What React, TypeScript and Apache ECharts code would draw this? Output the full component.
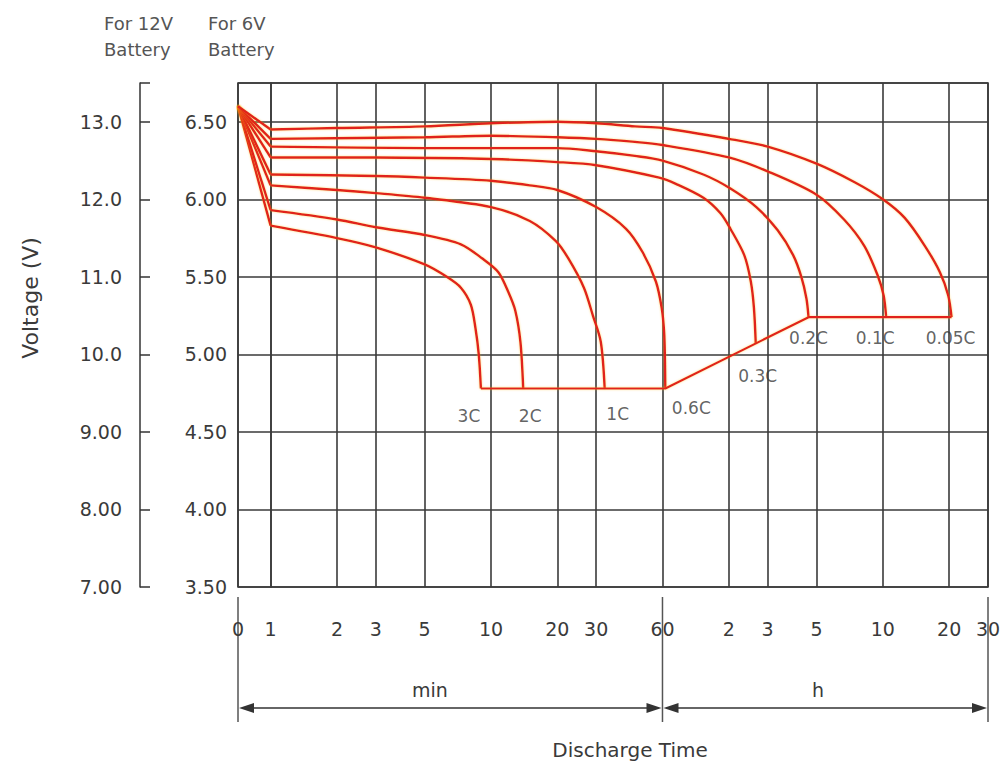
import React, { useEffect, useRef } from "react";
import * as echarts from "echarts";

// ---- data (time in minutes, voltage in V for a 6 V battery) ----
const LOG_ZERO = -0.148; // axis position used for t = 0 (log10 minutes axis)
const tickMinutes = [0, 1, 2, 3, 5, 10, 20, 30, 60, 120, 180, 300, 600, 1200, 1800];
const tickLabels = ["0", "1", "2", "3", "5", "10", "20", "30", "60", "2", "3", "5", "10", "20", "30"];

const rates = ["3C", "2C", "1C", "0.6C", "0.3C", "0.2C", "0.1C", "0.05C"];

const c3C = [[0, 6.6], [1, 5.83], [2, 5.75], [3, 5.69], [5, 5.58], [6.3, 5.5], [7.3, 5.43], [8.1, 5.32], [8.5, 5.17], [8.8, 5.0], [9.0, 4.78]];
const c2C = [[0, 6.6], [1, 5.93], [2, 5.87], [3, 5.82], [5, 5.77], [7.3, 5.71], [9.1, 5.62], [10.8, 5.53], [12, 5.4], [12.9, 5.28], [13.6, 5.08], [14, 4.78]];
const c1C = [[0, 6.6], [1, 6.09], [2, 6.06], [3, 6.04], [5, 6.01], [10, 5.95], [15, 5.86], [19.7, 5.73], [22.4, 5.62], [26.4, 5.43], [29, 5.25], [31.5, 5.08], [32.8, 4.78]];
const c06C = [[0, 6.6], [1, 6.16], [3, 6.15], [5, 6.14], [10, 6.12], [15, 6.09], [20, 6.06], [30, 5.95], [41, 5.81], [48.7, 5.66], [56, 5.47], [59.5, 5.3], [61, 5.15], [61.5, 5.0], [61.8, 4.78]];
const c03C = [[0, 6.6], [1, 6.27], [3, 6.27], [10, 6.26], [20, 6.24], [30, 6.22], [58, 6.14], [69, 6.1], [92, 6.01], [110, 5.91], [122, 5.81], [141, 5.64], [151, 5.47], [156, 5.3], [159, 5.07]];
const c02C = [[0, 6.6], [1, 6.34], [5, 6.33], [10, 6.33], [20, 6.33], [30, 6.31], [45, 6.28], [60, 6.25], [92, 6.16], [122, 6.07], [160, 5.95], [200, 5.8], [235, 5.64], [256, 5.5], [270, 5.36], [276, 5.24]];
const c01C = [[0, 6.6], [1, 6.39], [5, 6.4], [10, 6.41], [20, 6.4], [30, 6.39], [45, 6.37], [60, 6.35], [120, 6.27], [180, 6.18], [300, 6.03], [400, 5.87], [494, 5.7], [568, 5.51], [605, 5.38], [621, 5.24]];
const c005C = [[0, 6.6], [1, 6.45], [2, 6.46], [5, 6.47], [10, 6.49], [20, 6.5], [30, 6.49], [45, 6.47], [60, 6.46], [120, 6.39], [180, 6.34], [300, 6.23], [447, 6.11], [600, 6.0], [754, 5.88], [930, 5.7], [1089, 5.53], [1188, 5.38], [1230, 5.24]];
const cutoff = [[9.0, 4.78], [61.8, 4.78], [276, 5.24], [1230, 5.24]];

const curves = [c3C, c2C, c1C, c06C, c03C, c02C, c01C, c005C];

// label placement (style, not data)
const labelOffsets = [[-12, 27], [7, 27], [13, 25], [26, 19], [2, 32], [0, 21], [-11, 21], [-1, 21]];

const FONT = "DejaVu Sans, Verdana, sans-serif";
const RED = "#e1221a";
const GRID = "#3a3a3a";
const TEXT = "#3a3a3a";

const lx = (t: number) => (t === 0 ? LOG_ZERO : Math.log10(t));
const toXY = (arr: number[][]) => arr.map(([t, v]) => [lx(t), v]);

export default function App() {
  const ref = useRef<HTMLDivElement>(null);

  useEffect(() => {
    const chart = echarts.init(ref.current!, null, { renderer: "svg" });
    const tickVals = tickMinutes.map(lx);

    const lineStyle = {
      color: RED,
      width: 2.4,
      shadowColor: "rgba(255,180,0,0.45)",
      shadowBlur: 2,
    };

    const series: any[] = [];
    curves.forEach((c, i) => {
      series.push({
        name: rates[i] + "-start",
        type: "line",
        data: toXY(c.slice(0, 2)),
        symbol: "none",
        lineStyle,
        z: 3,
        silent: true,
      });
      series.push({
        name: rates[i],
        type: "line",
        data: toXY(c.slice(1)),
        symbol: "none",
        smooth: 0.3,
        lineStyle,
        z: 3,
        silent: true,
      });
    });
    series.push({
      name: "cutoff",
      type: "line",
      data: toXY(cutoff),
      symbol: "none",
      lineStyle: { ...lineStyle, width: 2.2 },
      z: 3,
      silent: true,
    });
    series.push({
      name: "labels",
      type: "scatter",
      symbolSize: 1,
      itemStyle: { color: "transparent" },
      silent: true,
      z: 4,
      data: curves.map((c, i) => {
        const last = c[c.length - 1];
        return {
          value: [lx(last[0]), last[1]],
          label: {
            show: true,
            position: "inside",
            offset: labelOffsets[i],
            formatter: rates[i],
            fontFamily: FONT,
            fontSize: 17,
            color: TEXT,
          },
        };
      }),
    });

    chart.setOption({
      animation: false,
      backgroundColor: "#ffffff",
      grid: {
        left: 238,
        right: 19,
        top: 83,
        bottom: 180,
        show: true,
        borderColor: GRID,
        borderWidth: 1.6,
      },
      xAxis: {
        type: "value",
        min: LOG_ZERO,
        max: Math.log10(1800),
        axisLine: { show: false },
        axisTick: { show: false, customValues: tickVals },
        axisLabel: {
          customValues: tickVals,
          margin: 32,
          fontFamily: FONT,
          fontSize: 19,
          color: TEXT,
          formatter: (v: number) => {
            let best = 0;
            tickVals.forEach((tv, i) => {
              if (Math.abs(tv - v) < Math.abs(tickVals[best] - v)) best = i;
            });
            return tickLabels[best];
          },
        },
        splitLine: { show: true, lineStyle: { color: GRID, width: 1.6 } },
      },
      yAxis: [
        {
          type: "value",
          min: 3.5,
          max: 6.75,
          interval: 0.5,
          position: "left",
          axisLine: { show: true, lineStyle: { color: GRID, width: 1.6 } },
          axisTick: { show: false },
          axisLabel: {
            margin: 11,
            fontFamily: FONT,
            fontSize: 19,
            color: TEXT,
            formatter: (v: number) => (v > 6.7 ? "" : v.toFixed(2)),
          },
          splitLine: { show: true, lineStyle: { color: GRID, width: 1.6 } },
        },
        {
          type: "value",
          min: 7,
          max: 13.5,
          interval: 1,
          position: "left",
          offset: 98,
          axisLine: { show: true, onZero: false, lineStyle: { color: "#333", width: 1.5 } },
          axisTick: { show: true, inside: true, length: 10, lineStyle: { color: "#333", width: 1.5 } },
          axisLabel: {
            margin: 18,
            fontFamily: FONT,
            fontSize: 19,
            color: TEXT,
            formatter: (v: number) => (v > 13.2 ? "" : v.toPrecision(3)),
          },
          splitLine: { show: false },
        },
      ],
      series,
    });

    const px = (t: number) => chart.convertToPixel({ xAxisIndex: 0 }, lx(t)) as number;
    const x0 = px(0);
    const x60 = px(60);
    const xEnd = px(1800);
    const yTop = 597;
    const yBot = 722;
    const yArr = 708;
    const DARK = "#333";
    const vline = (x: number) => ({
      type: "line",
      shape: { x1: x, y1: yTop, x2: x, y2: yBot },
      style: { stroke: "#555", lineWidth: 1.5 },
    });
    const arrowLine = (a: number, b: number) => ({
      type: "line",
      shape: { x1: a + 4, y1: yArr, x2: b - 4, y2: yArr },
      style: { stroke: DARK, lineWidth: 1.5 },
    });
    const headL = (x: number) => ({
      type: "polygon",
      shape: { points: [[x + 1, yArr], [x + 16, yArr - 5], [x + 16, yArr + 5]] },
      style: { fill: DARK },
    });
    const headR = (x: number) => ({
      type: "polygon",
      shape: { points: [[x - 1, yArr], [x - 16, yArr - 5], [x - 16, yArr + 5]] },
      style: { fill: DARK },
    });
    const txt = (text: string, x: number, y: number, size: number) => ({
      type: "text",
      x,
      y,
      style: {
        text,
        fontFamily: FONT,
        fontSize: size,
        fill: TEXT,
        align: "center",
        verticalAlign: "middle",
      },
    });

    chart.setOption({
      graphic: [
        vline(x0),
        vline(x60),
        vline(xEnd),
        arrowLine(x0, x60),
        arrowLine(x60, xEnd),
        headL(x0),
        headR(x60),
        headL(x60),
        headR(xEnd),
        txt("min", 430, 690, 19),
        txt("h", 818, 690, 19),
        txt("Discharge Time", 630, 750, 20),
        {
          type: "text",
          x: 30,
          y: 298,
          rotation: Math.PI / 2,
          style: {
            text: "Voltage (V)",
            fontFamily: FONT,
            fontSize: 22,
            fill: TEXT,
            align: "center",
            verticalAlign: "middle",
          },
        },
        {
          type: "text",
          x: 104,
          y: 10,
          style: { text: "For 12V\nBattery", fontFamily: FONT, fontSize: 18, lineHeight: 26, fill: "#555" },
        },
        {
          type: "text",
          x: 208,
          y: 10,
          style: { text: "For 6V\nBattery", fontFamily: FONT, fontSize: 18, lineHeight: 26, fill: "#555" },
        },
      ],
    });

    return () => chart.dispose();
  }, []);

  return (
    <div
      ref={ref}
      style={{ position: "fixed", left: 0, top: 0, width: 1007, height: 767, background: "#fff" }}
    />
  );
}
